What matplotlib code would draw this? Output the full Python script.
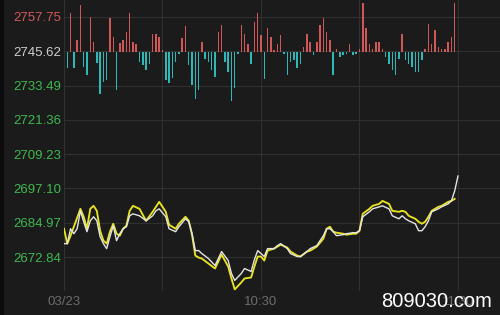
import matplotlib
matplotlib.use('Agg')
import matplotlib.pyplot as plt
from matplotlib.patches import Rectangle
import numpy as np

plt.rcParams['font.family'] = ['Liberation Sans', 'DejaVu Sans']

# y axis levels (left labels)
levels = [2757.75, 2745.62, 2733.49, 2721.36, 2709.23, 2697.10, 2684.97, 2672.84]
level_colors = ['#d25a5a', '#cfcfcf'] + ['#3fb94f'] * 6
base = 2745.62

# x labels
tick_min = [0, 60, 120]
tick_txt = ['03/23', '10:30', '11:30']

# index line (white)
w_min = [0, 1, 2, 3, 4, 5, 6, 7, 8, 9, 10, 11, 12, 13, 14, 15, 16, 17, 18, 19, 20, 21, 23, 25, 27, 28, 29,
         31, 32, 34, 35, 37, 38, 39, 40, 41, 42, 44, 46, 48, 50, 51, 52, 54, 55, 57, 58, 59, 60, 61, 62,
         64, 65, 66, 68, 69, 71, 72, 74, 75, 77, 79, 80, 81, 82, 83, 85, 86, 88, 89, 90, 91, 93, 94, 96,
         97, 99, 100, 102, 103, 104, 105, 107, 108, 109, 110, 111, 112, 114, 115, 117, 118, 119, 120]
w_val = [2677.59, 2677.59, 2682.86, 2681.10, 2682.86, 2689.19, 2685.32, 2681.81, 2685.67, 2687.08,
         2685.67, 2680.05, 2677.59, 2675.83, 2680.05, 2683.92, 2678.64, 2681.10, 2682.86, 2683.56,
         2687.43, 2688.13, 2687.43, 2685.67, 2687.43, 2689.19, 2689.89, 2687.08, 2682.86, 2681.81,
         2683.56, 2686.38, 2685.32, 2681.10, 2675.13, 2675.13, 2674.07, 2672.31, 2669.85, 2674.78,
         2671.61, 2667.04, 2664.58, 2667.04, 2668.80, 2667.74, 2671.96, 2675.13, 2674.07, 2673.02,
         2675.83, 2675.83, 2676.89, 2677.59, 2675.83, 2674.07, 2673.02, 2673.02, 2674.78, 2675.83,
         2676.89, 2680.40, 2682.86, 2682.86, 2681.81, 2680.40, 2680.75, 2681.10, 2681.46, 2681.46,
         2682.16, 2687.08, 2688.84, 2689.89, 2690.59, 2690.95, 2689.89, 2687.43, 2686.38, 2687.43,
         2686.38, 2685.67, 2684.62, 2682.16, 2682.16, 2683.56, 2685.67, 2688.84, 2689.89, 2690.59,
         2691.65, 2692.70, 2696.22, 2701.50]

# second line (yellow)
y_min = [0, 1, 2, 5, 6, 7, 8, 9, 10, 11, 12, 13, 14, 15, 16, 17, 18, 19, 20, 21, 23, 25, 27, 28, 29,
         31, 32, 34, 35, 37, 38, 39, 40, 41, 42, 44, 46, 48, 50, 51, 52, 54, 55, 57, 58, 59, 60, 61, 62,
         64, 65, 66, 68, 69, 71, 72, 74, 75, 77, 79, 80, 81, 82, 83, 85, 86, 88, 89, 90, 91, 93, 94, 96,
         97, 99, 100, 102, 103, 104, 105, 107, 108, 109, 110, 111, 112, 114, 115, 117, 118, 119]
y_val = [2682.86, 2677.59, 2680.40, 2689.89, 2687.08, 2682.86, 2689.89, 2690.95, 2689.19, 2682.16,
         2678.64, 2677.59, 2681.81, 2684.62, 2681.10, 2680.40, 2682.86, 2683.92, 2689.19, 2690.95,
         2689.89, 2685.67, 2688.84, 2690.59, 2692.35, 2688.84, 2684.27, 2682.86, 2684.62, 2687.08,
         2685.67, 2680.75, 2673.37, 2672.66, 2672.31, 2670.55, 2668.80, 2673.72, 2669.50, 2665.28,
         2661.41, 2663.87, 2665.28, 2665.63, 2669.50, 2673.02, 2673.02, 2671.61, 2675.13, 2675.83,
         2676.54, 2677.24, 2676.19, 2674.78, 2673.37, 2673.02, 2674.78, 2675.13, 2676.54, 2679.35,
         2682.86, 2683.56, 2681.81, 2681.46, 2681.10, 2680.75, 2681.10, 2681.10, 2682.16, 2688.13,
         2689.89, 2690.95, 2691.65, 2692.70, 2691.65, 2689.19, 2688.84, 2689.19, 2688.84, 2687.43,
         2686.38, 2685.32, 2684.62, 2685.32, 2687.08, 2689.19, 2690.59, 2690.95, 2692.35, 2692.70,
         2693.41]

# up/down strength bars, one per minute
bars = [-16, 39, -16, 12, 47, -15, -23, 35, 10, -11, -43, -30, -28, 34, 15, -38, 9, 12, 20, 39, 10, 8,
        -10, -13, -18, -12, 18, 18,
        15, 2, -28, -31, -26, -10, -2, 14, 26, -13, -33, -48, -38, 10, -7, -10, -18, -25, 20, 27, -10,
        -20, -50, -36, -2, 27, 18, 8, -12, 30,
        39, 17, -27, 24, 15, 2, 8, 17, -2, -23, -10, -8, -16, -12, 5, 18, 10, -3, 10, 27, 34, 20, 12,
        -23, 3, -5, -3, -2, 8, -3, -2,
        3, 49, 24, 8, 3, 10, 10, 3, -5, -12, -18, -23, -7, 18, -8, -12, -15, -20, -20, -8, 3, 28, 8,
        22, 5, 3, 3, 10, 15, 49]
bar_min = np.arange(1, len(bars) + 1)

bg = '#1b1b1b'
grid = '#303030'

fig = plt.figure(figsize=(5, 3.15), dpi=100, facecolor=bg)
# thin dark strip on the left edge
fig.patches.append(Rectangle((0, 0), 0.007, 1, transform=fig.transFigure,
                             facecolor='#0c0c0c', edgecolor='none', zorder=0))

ax = fig.add_axes([0.128, 0.075, 0.872, 0.925])
ax.set_facecolor(bg)

ax.set_xlim(0, 132.8)
ax.set_ylim(2660.71, 2763.73)

for lv in levels:
    ax.axhline(lv, color=grid, lw=0.8, zorder=0)
for m in [0, 30, 60, 90, 120]:
    ax.axvline(m, color=grid, lw=0.8, zorder=0)

ax.plot(w_min, w_val, color='#e4e4e4', lw=1.0, zorder=3, solid_joinstyle='round')
ax.plot(y_min, y_val, color='#e8e321', lw=1.35, zorder=2, solid_joinstyle='round')

# bars on their own scale, zero on the 2745.62 line
ax2 = ax.twinx()
ax2.set_ylim(-241, 52)
ax2.set_xlim(0, 132.8)
bcol = ['#d05858' if b > 0 else '#2fb8b8' for b in bars]
ax2.bar(bar_min, bars, width=0.45, color=bcol, zorder=2)
ax2.axis('off')

ax.set_yticks(levels)
ax.set_yticklabels(['%.2f' % v for v in levels], fontsize=9.5)
for lab, c in zip(ax.get_yticklabels(), level_colors):
    lab.set_color(c)
ax.set_xticks(tick_min)
ax.set_xticklabels(tick_txt, fontsize=9.5, color='#6c6c6c')
ax.tick_params(length=0, pad=3)
ax.tick_params(axis='y', pad=2)
for s in ax.spines.values():
    s.set_visible(False)

fig.text(0.983, 0.012, '809030.com', color='white', fontsize=14.5, ha='right', va='bottom', zorder=10)

fig.savefig('out.png', dpi=100, facecolor=bg)
